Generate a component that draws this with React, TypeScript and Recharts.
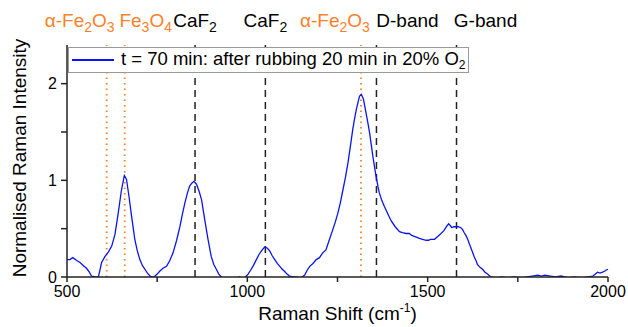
import { LineChart, Line, XAxis, YAxis, ReferenceLine } from "recharts";

// Raman spectrum after rubbing
const shift = [
  500, 508, 516, 527, 536, 545, 554, 562, 568, 578, 587, 596, 605, 615, 624, 633, 642, 651, 659, 665,
  672, 679, 688, 695, 702, 709, 716, 723, 730, 737, 744, 750, 757, 766, 776, 785, 794, 804, 813, 820,
  827, 834, 840, 846, 852, 859, 866, 873, 882, 891, 900, 907, 914, 921, 928, 940, 960, 978, 985, 995,
  1002, 1009, 1017, 1025, 1032, 1039, 1048, 1055, 1062, 1069, 1076, 1083, 1090, 1097, 1103, 1110, 1117,
  1127, 1136, 1145, 1152, 1159, 1166, 1173, 1182, 1191, 1200, 1209, 1218, 1226, 1237, 1244, 1251, 1258,
  1265, 1272, 1279, 1286, 1292, 1297, 1302, 1307, 1311, 1316, 1322, 1329, 1334, 1339, 1344, 1348, 1353,
  1357, 1362, 1366, 1373, 1380, 1390, 1399, 1410, 1422, 1430, 1440, 1449, 1456, 1463, 1470, 1477, 1486,
  1496, 1502, 1508, 1519, 1528, 1537, 1545, 1552, 1558, 1563, 1567, 1572, 1579, 1585, 1592, 1597, 1601,
  1606, 1611, 1615, 1620, 1625, 1629, 1634, 1638, 1645, 1652, 1659, 1666, 1675, 1690, 1705, 1720, 1740,
  1760, 1775, 1790, 1805, 1815, 1825, 1840, 1855, 1870, 1890, 1905, 1925, 1945, 1958, 1965, 1971, 1978,
  1985, 1990, 1994, 2000,
];
const intensity = [
  0.18, 0.18, 0.2, 0.17, 0.15, 0.12, 0.09, 0.05, 0.01, 0.0, 0.0, 0.15, 0.21, 0.26, 0.32, 0.44, 0.66, 0.9, 1.05, 1.01,
  0.83, 0.63, 0.39, 0.27, 0.18, 0.12, 0.08, 0.04, 0.01, 0.0, 0.01, 0.03, 0.06, 0.09, 0.11, 0.17, 0.25, 0.38, 0.52, 0.65,
  0.77, 0.87, 0.94, 0.97, 0.99, 0.96, 0.89, 0.8, 0.59, 0.39, 0.21, 0.13, 0.08, 0.03, 0.0, -0.02, -0.02, 0.0, -0.02, 0.0,
  0.03, 0.07, 0.12, 0.18, 0.23, 0.27, 0.31, 0.3, 0.27, 0.22, 0.18, 0.14, 0.11, 0.08, 0.06, 0.03, 0.01,
  0.0, 0.0, -0.01, 0.0, 0.02, 0.07, 0.11, 0.14, 0.18, 0.2, 0.25, 0.28, 0.37, 0.49, 0.57, 0.66, 0.77,
  0.9, 1.03, 1.18, 1.36, 1.52, 1.63, 1.73, 1.81, 1.87, 1.89, 1.84, 1.7, 1.6, 1.49, 1.36, 1.25, 1.13,
  1.04, 0.94, 0.87, 0.79, 0.73, 0.65, 0.58, 0.52, 0.47, 0.46, 0.45, 0.45, 0.43, 0.42, 0.41, 0.4, 0.39,
  0.38, 0.38, 0.39, 0.39, 0.42, 0.45, 0.48, 0.52, 0.55, 0.53, 0.51, 0.52, 0.52, 0.52, 0.51, 0.49, 0.46,
  0.43, 0.39, 0.35, 0.3, 0.25, 0.21, 0.17, 0.13, 0.1, 0.08, 0.05, 0.03, 0.0, -0.01, 0.0, -0.01, 0.0,
  -0.01, 0.0, 0.01, 0.02, 0.01, 0.02, 0.01, 0.0, 0.01, -0.01, 0.0, -0.01, 0.0, 0.01, 0.03, 0.05, 0.04,
  0.05, 0.06, 0.07, 0.08,
];

const xTicks = [500, 750, 1000, 1250, 1500, 1750, 2000];
const yTicks = [0, 0.5, 1, 1.5, 2];

// peak assignments: position, label pieces [text, subscript?], oxide or carbon/CaF2
type Piece = [string, boolean];
const peakPos = [610, 660, 855, 1050, 1315, 1358, 1580];
const peakLabels: Piece[][] = [
  [["α-Fe", false], ["2", true], ["O", false], ["3", true]],
  [["Fe", false], ["3", true], ["O", false], ["4", true]],
  [["CaF", false], ["2", true]],
  [["CaF", false], ["2", true]],
  [["α-Fe", false], ["2", true], ["O", false], ["3", true]],
  [["D-band", false]],
  [["G-band", false]],
];
const peakIsOxide = [true, true, false, false, true, false, false];
const labelShift = [-27, 21, 0, 0, -26, 31, 29];

const data = shift.map((s, i) => ({ s, v: intensity[i] }));

const FONT = "'Liberation Sans', Arial, sans-serif";
const ORANGE = "#FF7F27";
const BLUE = "#0A14F0";
const AXIS = "#222";

function Pieces({ parts, sub }: { parts: Piece[]; sub: number }) {
  let prev = false;
  return (
    <>
      {parts.map(([t, isSub], i) => {
        const dy = isSub === prev ? 0 : isSub ? sub : -sub;
        prev = isSub;
        return (
          <tspan key={i} dy={dy} fontSize={isSub ? 14 : undefined}>
            {t}
          </tspan>
        );
      })}
    </>
  );
}

function PeakLabel(props: any, i: number) {
  const vb = props.viewBox || {};
  return (
    <text
      x={vb.x + labelShift[i]}
      y={vb.y - 18}
      textAnchor="middle"
      fontFamily={FONT}
      fontSize={19}
      fill={peakIsOxide[i] ? ORANGE : "#000"}
    >
      <Pieces parts={peakLabels[i]} sub={5} />
    </text>
  );
}

export default function App() {
  return (
    <div style={{ position: "absolute", left: 0, top: 0, width: 628, height: 327, background: "#fff" }}>
      <LineChart width={628} height={327} data={data} margin={{ top: 45, right: 20, bottom: 0, left: 0 }}>
        <XAxis
          xAxisId="bottom"
          dataKey="s"
          type="number"
          domain={[500, 2000]}
          ticks={xTicks}
          height={50}
          stroke={AXIS}
          strokeWidth={1.5}
          tickSize={5}
          tickMargin={4}
          tick={{ fontSize: 16, fill: "#000", fontFamily: FONT }}
          tickFormatter={(v) => (v % 500 === 0 ? String(v) : "")}
          label={(p: any) => {
            const vb = p.viewBox;
            return (
              <text
                x={vb.x + vb.width / 2}
                y={vb.y + 43}
                textAnchor="middle"
                fontFamily={FONT}
                fontSize={19}
                fill="#000"
              >
                Raman Shift (cm
                <tspan dy={-8} fontSize={12}>
                  -1
                </tspan>
                <tspan dy={8}>)</tspan>
              </text>
            );
          }}
        />
        <XAxis
          xAxisId="top"
          dataKey="s"
          type="number"
          orientation="top"
          mirror
          domain={[500, 2000]}
          ticks={xTicks}
          height={0}
          stroke={AXIS}
          strokeWidth={1.5}
          tickSize={5}
          tick={false}
        />
        <YAxis
          yAxisId="left"
          type="number"
          domain={[0, 2.4]}
          allowDataOverflow
          ticks={yTicks}
          width={67}
          stroke={AXIS}
          strokeWidth={1.5}
          tickSize={6}
          tickMargin={4}
          tick={{ fontSize: 16, fill: "#000", fontFamily: FONT }}
          tickFormatter={(v) => (Number.isInteger(v) ? String(v) : "")}
          label={(p: any) => {
            const vb = p.viewBox;
            const cx = 19;
            const cy = vb.y + vb.height / 2 - 3;
            return (
              <text
                x={cx}
                y={cy}
                transform={`rotate(-90 ${cx} ${cy})`}
                textAnchor="middle"
                dominantBaseline="central"
                fontFamily={FONT}
                fontSize={19}
                fill="#000"
              >
                Normalised Raman Intensity
              </text>
            );
          }}
        />
        <YAxis
          yAxisId="right"
          type="number"
          orientation="right"
          mirror
          domain={[0, 2.4]}
          ticks={yTicks}
          width={0}
          stroke={AXIS}
          strokeWidth={1.5}
          tickSize={5}
          tick={false}
        />
        {peakPos.map((x, i) => (
          <ReferenceLine
            key={i}
            xAxisId="bottom"
            yAxisId="left"
            x={x}
            stroke={peakIsOxide[i] ? ORANGE : "#222"}
            strokeWidth={peakIsOxide[i] ? 1.8 : 1.5}
            strokeDasharray={peakIsOxide[i] ? "1.5 4" : "7 5"}
            label={(p: any) => PeakLabel(p, i)}
          />
        ))}
        <Line
          xAxisId="bottom"
          yAxisId="left"
          type="linear"
          dataKey="v"
          stroke={BLUE}
          strokeWidth={1.3}
          dot={false}
          isAnimationActive={false}
        />
      </LineChart>
      <div
        style={{
          position: "absolute",
          left: 68,
          top: 47,
          width: 401,
          height: 26,
          boxSizing: "border-box",
          border: "1px solid #999",
          background: "#fff",
          display: "flex",
          alignItems: "center",
          fontFamily: FONT,
          fontSize: 18.5,
          color: "#000",
          whiteSpace: "nowrap",
        }}
      >
        <div style={{ width: 42, height: 1.5, background: BLUE, marginLeft: 3, marginRight: 7, flex: "none" }} />
        <span>
          t = 70 min: after rubbing 20 min in 20% O<sub style={{ fontSize: 12, verticalAlign: -4 }}>2</sub>
        </span>
      </div>
    </div>
  );
}
